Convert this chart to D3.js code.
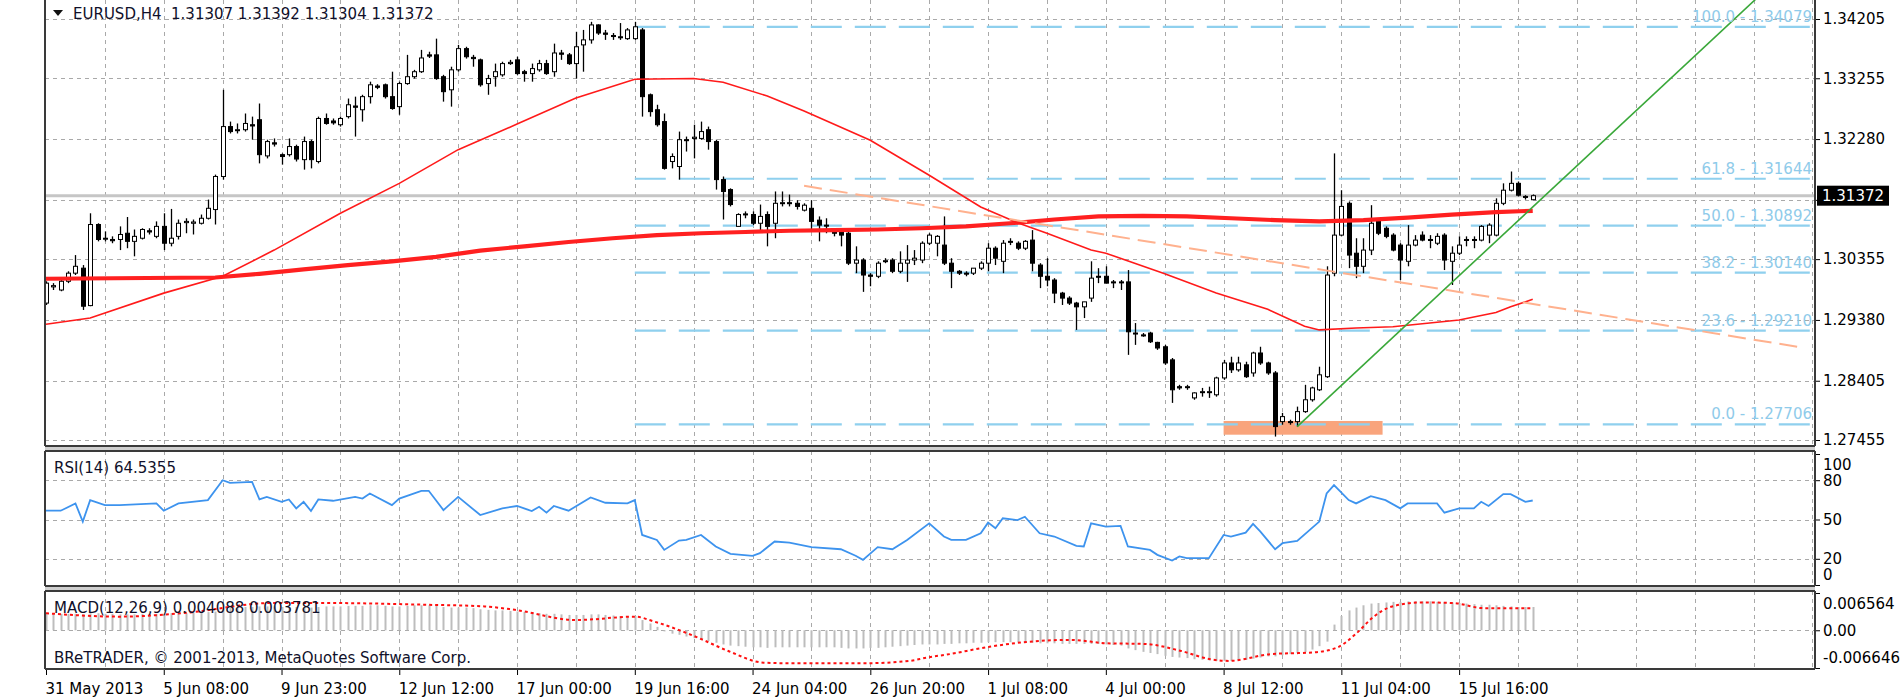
<!DOCTYPE html>
<html><head><meta charset="utf-8">
<script src="https://cdn.jsdelivr.net/npm/d3@7"></script>
<style>
body{margin:0;background:#fff;}
svg{display:block;font-family:"DejaVu Sans",sans-serif;}
</style>
</head><body>
<svg id="c" width="1900" height="700"></svg>
<script>
// ---------------- DATA ----------------
const symbolLabel = "EURUSD,H4";
const lastBar = [1.31307, 1.31392, 1.31304, 1.31372];
const currentPrice = 1.31372;

const opens = [
1.2965,1.2991,1.2986,1.3000,1.3013,1.3021,1.2961,1.3091,1.3068,1.3067,
1.3067,1.3077,1.3064,1.3069,1.3081,1.3072,1.3088,1.3061,1.3072,1.3094,
1.3093,1.3093,1.3101,1.3115,1.3168,1.3248,1.3242,1.3243,1.3251,1.3259,
1.3201,1.3222,1.3203,1.3203,1.3216,1.3195,1.3224,1.3192,1.3261,1.3257,
1.3251,1.3264,1.3281,1.3275,1.3296,1.3313,1.3315,1.3296,1.3280,1.3317,
1.3328,1.3336,1.3363,1.3363,1.3328,1.3307,1.3339,1.3373,1.3359,1.3355,
1.3317,1.3328,1.3331,1.3349,1.3355,1.3336,1.3333,1.3339,1.3349,1.3336,
1.3366,1.3363,1.3349,1.3379,1.3387,1.3411,1.3398,1.3394,1.3392,1.3389,
1.3389,1.3403,1.3299,1.3275,1.3256,1.3192,1.3184,1.3227,1.3229,1.3229,
1.3243,1.3224,1.3163,1.3147,1.3088,1.3108,1.3107,1.3093,1.3107,1.3093,
1.3125,1.3126,1.3125,1.3114,1.3117,1.3098,1.3090,1.3082,1.3080,1.3077,
1.3029,1.3034,1.3010,1.3008,1.3032,1.3034,1.3016,1.3029,1.3034,1.3034,
1.3061,1.3061,1.3058,1.3029,1.3016,1.3013,1.3013,1.3021,1.3029,1.3053,
1.3032,1.3064,1.3061,1.3053,1.3066,1.3026,1.3008,1.3002,1.2981,1.2973,
1.2965,1.2959,1.2973,1.3008,1.3008,1.2999,1.2999,1.2999,1.2917,1.2914,
1.2917,1.2902,1.2895,1.2874,1.2831,1.2830,1.2813,1.2822,1.2822,1.2818,
1.2845,1.2869,1.2858,1.2866,1.2853,1.2885,1.2869,1.2853,1.2775,1.2775,
1.2775,1.2791,1.2810,1.2826,1.2847,1.3013,1.3074,1.3125,1.3045,1.3024,
1.3050,1.3096,1.3085,1.3074,1.3058,1.3032,1.3058,1.3074,1.3067,1.3061,
1.3074,1.3032,1.3045,1.3066,1.3067,1.3066,1.3074,1.3074,1.3125,1.3146,
1.3157,1.3136,1.31307];
const highs = [
1.3000,1.2997,1.3002,1.3016,1.3042,1.3026,1.3109,1.3093,1.3080,1.3072,
1.3088,1.3103,1.3083,1.3085,1.3085,1.3096,1.3109,1.3116,1.3099,1.3101,
1.3099,1.3107,1.3131,1.3171,1.3307,1.3256,1.3253,1.3269,1.3264,1.3285,
1.3227,1.3229,1.3205,1.3229,1.3219,1.3232,1.3227,1.3264,1.3269,1.3261,
1.3264,1.3293,1.3296,1.3299,1.3320,1.3316,1.3317,1.3336,1.3320,1.3363,
1.3339,1.3371,1.3368,1.3389,1.3331,1.3344,1.3379,1.3376,1.3363,1.3357,
1.3331,1.3349,1.3352,1.3355,1.3360,1.3339,1.3349,1.3355,1.3355,1.3381,
1.3371,1.3366,1.3400,1.3403,1.3416,1.3412,1.3403,1.3398,1.3414,1.3406,
1.3416,1.3406,1.3301,1.3283,1.3269,1.3205,1.3240,1.3232,1.3251,1.3256,
1.3248,1.3227,1.3168,1.3149,1.3109,1.3112,1.3112,1.3123,1.3112,1.3144,
1.3144,1.3139,1.3130,1.3125,1.3130,1.3104,1.3101,1.3085,1.3082,1.3080,
1.3056,1.3037,1.3013,1.3032,1.3037,1.3037,1.3048,1.3058,1.3050,1.3064,
1.3077,1.3074,1.3104,1.3037,1.3018,1.3016,1.3021,1.3032,1.3061,1.3056,
1.3066,1.3069,1.3064,1.3066,1.3082,1.3029,1.3037,1.3005,1.2983,1.2976,
1.2967,1.2967,1.3032,1.3021,1.3024,1.3002,1.3002,1.3018,1.2933,1.2917,
1.2919,1.2903,1.2898,1.2877,1.2834,1.2834,1.2822,1.2829,1.2831,1.2847,
1.2874,1.2879,1.2879,1.2871,1.2887,1.2895,1.2871,1.2856,1.2789,1.2778,
1.2799,1.2834,1.2831,1.2863,1.3024,1.3205,1.3146,1.3128,1.3069,1.3069,
1.3122,1.3099,1.3088,1.3077,1.3061,1.3090,1.3074,1.3080,1.3074,1.3077,
1.3077,1.3056,1.3072,1.3072,1.3072,1.3090,1.3093,1.3133,1.3157,1.3176,
1.3160,1.3138,1.31392];
const lows = [
1.2962,1.2986,1.2984,1.2997,1.3010,1.2954,1.2960,1.3064,1.3064,1.3061,
1.3050,1.3053,1.3040,1.3067,1.3075,1.3069,1.3050,1.3056,1.3067,1.3077,
1.3075,1.3091,1.3099,1.3091,1.3163,1.3237,1.3237,1.3240,1.3227,1.3189,
1.3197,1.3216,1.3187,1.3200,1.3192,1.3179,1.3181,1.3189,1.3251,1.3251,
1.3248,1.3261,1.3232,1.3256,1.3285,1.3308,1.3293,1.3275,1.3267,1.3315,
1.3325,1.3334,1.3358,1.3323,1.3288,1.3280,1.3336,1.3357,1.3344,1.3312,
1.3299,1.3312,1.3328,1.3347,1.3331,1.3320,1.3320,1.3336,1.3331,1.3328,
1.3355,1.3347,1.3325,1.3336,1.3381,1.3395,1.3387,1.3387,1.3387,1.3387,
1.3387,1.3264,1.3264,1.3248,1.3179,1.3181,1.3163,1.3208,1.3197,1.3227,
1.3211,1.3147,1.3099,1.3120,1.3088,1.3101,1.3090,1.3080,1.3056,1.3069,
1.3120,1.3120,1.3115,1.3112,1.3082,1.3064,1.3077,1.3072,1.3056,1.3026,
1.3013,1.2983,1.2992,1.3005,1.3029,1.3013,1.3013,1.2999,1.3026,1.3029,
1.3058,1.3040,1.3026,1.2989,1.3010,1.3008,1.3010,1.3018,1.3016,1.3026,
1.3013,1.3058,1.3050,1.3050,1.3016,1.2989,1.2992,1.2965,1.2962,1.2962,
1.2922,1.2941,1.2967,1.2997,1.2997,1.2989,1.2986,1.2882,1.2898,1.2911,
1.2901,1.2890,1.2866,1.2805,1.2826,1.2826,1.2810,1.2815,1.2813,1.2815,
1.2842,1.2853,1.2855,1.2845,1.2847,1.2866,1.2850,1.2751,1.2770,1.2770,
1.2767,1.2789,1.2807,1.2824,1.2845,1.3008,1.3072,1.3021,1.3005,1.3013,
1.3042,1.3074,1.3069,1.3048,1.3002,1.3024,1.3056,1.3064,1.3053,1.3058,
1.3018,1.2994,1.3042,1.3056,1.3053,1.3064,1.3061,1.3072,1.3122,1.3144,
1.3136,1.3131,1.31304];
const closes = [
1.2997,1.2993,1.3000,1.3013,1.3024,1.2960,1.3091,1.3067,1.3069,1.3065,
1.3075,1.3064,1.3072,1.3083,1.3079,1.3088,1.3061,1.3069,1.3093,1.3096,
1.3095,1.3101,1.3117,1.3168,1.3248,1.3240,1.3243,1.3253,1.3249,1.3203,
1.3224,1.3220,1.3200,1.3216,1.3196,1.3224,1.3195,1.3261,1.3253,1.3254,
1.3261,1.3283,1.3279,1.3296,1.3315,1.3311,1.3296,1.3277,1.3317,1.3328,
1.3336,1.3358,1.3361,1.3325,1.3304,1.3339,1.3373,1.3360,1.3357,1.3315,
1.3325,1.3336,1.3349,1.3351,1.3333,1.3333,1.3341,1.3349,1.3333,1.3366,
1.3364,1.3349,1.3376,1.3387,1.3411,1.3398,1.3396,1.3393,1.3391,1.3403,
1.3408,1.3296,1.3272,1.3251,1.3181,1.3200,1.3227,1.3226,1.3231,1.3240,
1.3224,1.3163,1.3144,1.3123,1.3107,1.3107,1.3093,1.3104,1.3088,1.3125,
1.3126,1.3125,1.3120,1.3122,1.3096,1.3090,1.3089,1.3077,1.3074,1.3029,
1.3034,1.3010,1.3008,1.3029,1.3033,1.3016,1.3029,1.3034,1.3037,1.3061,
1.3074,1.3072,1.3029,1.3016,1.3013,1.3012,1.3021,1.3029,1.3053,1.3037,
1.3061,1.3063,1.3053,1.3064,1.3029,1.3008,1.3002,1.2981,1.2973,1.2965,
1.2959,1.2967,1.3005,1.3007,1.2997,1.2998,1.2998,1.2919,1.2916,1.2913,
1.2903,1.2893,1.2869,1.2826,1.2829,1.2831,1.2821,1.2823,1.2823,1.2845,
1.2869,1.2858,1.2869,1.2847,1.2885,1.2869,1.2853,1.2767,1.2783,1.2774,
1.2791,1.2810,1.2829,1.2850,1.3010,1.3074,1.3120,1.3042,1.3024,1.3050,
1.3093,1.3077,1.3072,1.3050,1.3034,1.3058,1.3066,1.3066,1.3066,1.3072,
1.3034,1.3045,1.3058,1.3067,1.3066,1.3088,1.3090,1.3125,1.3146,1.3157,
1.3138,1.3135,1.31372];

const priceTicks = [1.34205, 1.33255, 1.32280, 1.31305, 1.30355, 1.29380, 1.28405, 1.27455];
const timeLabels = ["31 May 2013","5 Jun 08:00","9 Jun 23:00","12 Jun 12:00","17 Jun 00:00","19 Jun 16:00","24 Jun 04:00","26 Jun 20:00","1 Jul 08:00","4 Jul 00:00","8 Jul 12:00","11 Jul 04:00","15 Jul 16:00"];
const timeLabelBars = [0,16,32,48,64,80,96,112,128,144,160,176,192];

// moving averages (higher-timeframe, read as vertices)
const maFastBars = [0,6,16,24,31,40,48,56,64,72,80,88,92,98,103,112,120,127,132,136,142,144,152,159,166,171,173,178,183,188,192,197,199,202];
const maFastValues = [1.2931,1.2941,1.2981,1.3008,1.3050,1.3109,1.3157,1.3211,1.3252,1.3294,1.3324,1.3325,1.3319,1.3297,1.3273,1.3226,1.3170,1.3119,1.3094,1.3077,1.3050,1.3045,1.3012,1.2981,1.2955,1.2928,1.2922,1.2925,1.2927,1.2933,1.2938,1.2950,1.2959,1.2971];
const maSlowBars = [0,23,29,35,41,47,53,59,65,71,77,83,89,95,101,107,113,119,125,131,137,143,149,155,161,167,173,179,185,191,197,202];
const maSlowValues = [1.3004,1.3006,1.3012,1.3019,1.3026,1.3032,1.3039,1.3049,1.3056,1.3063,1.3069,1.3074,1.3077,1.3079,1.3081,1.3082,1.3083,1.3085,1.3088,1.3093,1.3099,1.3104,1.3105,1.3104,1.3101,1.3098,1.3096,1.3098,1.3102,1.3107,1.3111,1.3113];

// Fibonacci retracement
const fibLevels = [100.0, 61.8, 50.0, 38.2, 23.6, 0.0];
const fibPrices = [1.34079, 1.31644, 1.30892, 1.30140, 1.29210, 1.27706];
const fibStartBar = 80;

// objects
const greenTrendBars = [170, 204];
const greenTrendPrices = [1.2767, 1.3141];
const salmonTrendBars = [103, 239];
const salmonTrendPrices = [1.3153, 1.2893];
const zoneBars = [160, 181.6];
const zonePrices = [1.2776, 1.2754];

// RSI(14)
const rsiLabel = "RSI(14) 64.5355";
const rsiTicks = [100, 80, 50, 20, 0];
const rsiBars = [0,2,4,5,6,8,10,15,16,18,22,24,25,28,29,30,32,33,34,35,36,37,39,42,43,44,47,48,51,52,54,56,59,62,64,66,67,68,69,71,74,76,79,80,81,83,84,86,87,89,91,93,96,97,99,101,104,108,110,111,113,115,117,120,122,123,125,127,128,129,130,132,133,135,137,140,141,142,144,146,147,150,151,153,154,155,158,160,161,163,164,165,167,168,170,173,174,175,177,178,180,182,184,185,189,190,192,194,195,196,198,199,201,202];
const rsiValues = [56.7,56.7,62.3,48.4,64.8,61,61,62.3,56.7,62.3,64.8,80,78,78.7,65.3,67.3,63.5,65.3,58.5,63.5,56.5,65.3,64.3,67.3,66,69.9,61,66,71.9,71.9,57.2,67.3,53.4,58.5,60.3,56.5,59.7,55.2,60.3,56.7,66.8,62.8,62.3,64.8,38.2,34.4,26.8,33.9,34.4,38.2,29.4,23.8,22.3,24.3,33.2,32.4,28.9,27.3,22.3,19.2,28.9,27.3,34.4,47.1,37,34.4,34.4,39.5,47.6,43.3,50.9,49.6,52.1,39.5,37,29.9,29.4,47.1,44.6,45.1,29.4,26.8,23,18.7,21.8,20.5,20.5,38.2,37,40,46.6,40.8,27.3,31.9,33.7,48.4,69.9,76.2,64.8,62.3,67.8,64.8,58.5,62.3,62.3,55.2,58.5,58.5,63.5,60.3,69.4,69.4,63.5,64.5];

// MACD(12,26,9)
const macdLabel = "MACD(12,26,9) 0.004088 0.003781";
const macdTicks = [0.006564, 0, -0.006646];
const macdTickLabels = ["0.006564", "0.00", "-0.006646"];
const macdHist = [
.0030,.0030,.0029,.0029,.0029,.0028,.0030,.0030,.0029,.0029,
.0028,.0028,.0028,.0029,.0029,.0029,.0029,.0030,.0030,.0030,
.0031,.0031,.0032,.0033,.0037,.0039,.0040,.0041,.0041,.0042,
.0042,.0042,.0041,.0041,.0041,.0040,.0040,.0041,.0042,.0042,
.0042,.0043,.0043,.0043,.0044,.0044,.0043,.0042,.0042,.0043,
.0044,.0044,.0044,.0043,.0041,.0040,.0040,.0040,.0039,.0037,
.0036,.0035,.0035,.0034,.0033,.0032,.0031,.0030,.0029,.0029,
.0028,.0027,.0027,.0027,.0028,.0028,.0027,.0026,.0025,.0025,
.0025,.0018,.0012,.0006,-.0002,-.0006,-.0008,-.0011,-.0014,-.0017,
-.0019,-.0022,-.0025,-.0027,-.0028,-.0029,-.0030,-.0030,-.0031,-.0030,
-.0030,-.0030,-.0030,-.0030,-.0030,-.0030,-.0030,-.0030,-.0031,-.0032,
-.0032,-.0032,-.0031,-.0031,-.0030,-.0029,-.0028,-.0027,-.0026,-.0025,
-.0025,-.0025,-.0024,-.0024,-.0023,-.0023,-.0022,-.0022,-.0021,-.0021,
-.0021,-.0021,-.0021,-.0022,-.0022,-.0023,-.0023,-.0023,-.0024,-.0024,
-.0024,-.0024,-.0024,-.0024,-.0025,-.0026,-.0027,-.0032,-.0035,-.0038,
-.0040,-.0042,-.0045,-.0047,-.0048,-.0049,-.0051,-.0052,-.0053,-.0054,
-.0054,-.0054,-.0053,-.0052,-.0050,-.0048,-.0046,-.0046,-.0044,-.0042,
-.0040,-.0038,-.0034,-.0028,-.0020,.0010,.0025,.0035,.0040,.0044,
.0047,.0048,.0049,.0050,.0050,.0051,.0051,.0051,.0051,.0050,
.0050,.0049,.0048,.0047,.0046,.0045,.0045,.0044,.0043,.0042,
.0041,.0041,.0041];
const signalBars = [0,10,18.5,30.8,38.2,51.4,59.6,63.7,72,80,82.7,88.4,92.6,97.5,100.8,111.5,117.3,119.7,122.8,127.7,136,139.3,144.2,149.2,154.1,158.2,160.7,166.4,172.2,175.5,178,180.4,182.9,187,191.2,195.3,202];
const signalValues = [.0030,.0024,.0030,.0048,.0048,.0045,.0042,.0036,.0018,.0024,.0015,-.0012,-.0036,-.0057,-.0058,-.0058,-.0054,-.0048,-.0042,-.0030,-.0018,-.0017,-.0023,-.0024,-.0036,-.0051,-.0054,-.0042,-.0039,-.0030,-.0006,.0024,.0042,.0049,.0048,.0039,.0039];

const copyright = "BReTRADER, \u00A9 2001-2013, MetaQuotes Software Corp.";

// ---------------- LAYOUT ----------------
const L = 45, R = 1815;
const main = {top: 0, bottom: 446};
const rsiP = {top: 451, bottom: 586};
const macdP = {top: 591, bottom: 669};
const FS = 15;

const svg = d3.select("#c");
const x = d3.scaleLinear().domain([0, 240]).range([46, 46 + 7.36 * 240]);
const yP = d3.scaleLinear().domain([1.27455, 1.34205]).range([440, 19]);
const yR = d3.scaleLinear().domain([0, 100]).range([585, 454]);
const yM = d3.scaleLinear().domain([-0.006646, 0.006564]).range([668, 593]);

const defs = svg.append("defs");
function clip(id, p) {
  defs.append("clipPath").attr("id", id).append("rect")
    .attr("x", L).attr("y", p.top).attr("width", R - L).attr("height", p.bottom - p.top);
}
clip("cm", main); clip("cr", rsiP); clip("cd", macdP);

const gridBars = d3.range(8, 241, 8).filter(b => x(b) < R - 1);
const gridColor = "#a9a9a9";

function vgrid(p) {
  svg.append("g").selectAll("line").data(gridBars).join("line")
    .attr("x1", d => Math.round(x(d)) + 0.5).attr("x2", d => Math.round(x(d)) + 0.5)
    .attr("y1", p.top).attr("y2", p.bottom)
    .attr("stroke", gridColor).attr("stroke-width", 1).attr("stroke-dasharray", "4,4");
}
function hgrid(vals, sc) {
  svg.append("g").selectAll("line").data(vals).join("line")
    .attr("x1", L).attr("x2", R)
    .attr("y1", d => Math.round(sc(d)) + 0.5).attr("y2", d => Math.round(sc(d)) + 0.5)
    .attr("stroke", gridColor).attr("stroke-width", 1).attr("stroke-dasharray", "4,4");
}

// ---------- MAIN PANEL ----------
vgrid(main);
hgrid(priceTicks, yP);

const gm = svg.append("g").attr("clip-path", "url(#cm)");

// current price line
gm.append("line").attr("x1", L).attr("x2", R)
  .attr("y1", yP(currentPrice)).attr("y2", yP(currentPrice))
  .attr("stroke", "#c6c6c6").attr("stroke-width", 3);

// zone rectangle
gm.append("rect")
  .attr("x", x(zoneBars[0])).attr("width", x(zoneBars[1]) - x(zoneBars[0]))
  .attr("y", yP(zonePrices[0])).attr("height", yP(zonePrices[1]) - yP(zonePrices[0]))
  .attr("fill", "#f9a47c");

// fib lines
const fibData = fibLevels.map((lv, i) => ({lv, p: fibPrices[i]}));
gm.append("g").selectAll("line").data(fibData).join("line")
  .attr("x1", x(fibStartBar)).attr("x2", R)
  .attr("y1", d => yP(d.p)).attr("y2", d => yP(d.p))
  .attr("stroke", "#8fd0ee").attr("stroke-width", 2.2).attr("stroke-dasharray", "31,13");

// candles
const idx = d3.range(closes.length);
const gc = gm.append("g");
gc.selectAll("line").data(idx).join("line")
  .attr("x1", i => Math.round(x(i)) + 0.5).attr("x2", i => Math.round(x(i)) + 0.5)
  .attr("y1", i => yP(highs[i])).attr("y2", i => yP(lows[i]))
  .attr("stroke", "#000").attr("stroke-width", 1.3);
gc.selectAll("rect").data(idx).join("rect")
  .attr("x", i => Math.round(x(i)) - 1.5)
  .attr("width", 4)
  .attr("y", i => yP(Math.max(opens[i], closes[i])))
  .attr("height", i => Math.max(1, Math.abs(yP(opens[i]) - yP(closes[i]))))
  .attr("fill", i => closes[i] >= opens[i] ? "#fff" : "#000")
  .attr("stroke", "#000").attr("stroke-width", 1);

// moving averages
gm.append("path").datum(maSlowBars.map((b, i) => [b, maSlowValues[i]]))
  .attr("d", d3.line().x(d => x(d[0])).y(d => yP(d[1])))
  .attr("fill", "none").attr("stroke", "#ff2020").attr("stroke-width", 4.2);
gm.append("path").datum(maFastBars.map((b, i) => [b, maFastValues[i]]))
  .attr("d", d3.line().x(d => x(d[0])).y(d => yP(d[1])))
  .attr("fill", "none").attr("stroke", "#ff1a1a").attr("stroke-width", 1.6);

// salmon dashed trendline
gm.append("line")
  .attr("x1", x(salmonTrendBars[0])).attr("y1", yP(salmonTrendPrices[0]))
  .attr("x2", x(salmonTrendBars[1])).attr("y2", yP(salmonTrendPrices[1]))
  .attr("stroke", "#ffb18e").attr("stroke-width", 2).attr("stroke-dasharray", "18,8");

// green ray
const gSlope = (greenTrendPrices[1] - greenTrendPrices[0]) / (greenTrendBars[1] - greenTrendBars[0]);
const gEnd = 240;
gm.append("line")
  .attr("x1", x(greenTrendBars[0])).attr("y1", yP(greenTrendPrices[0]))
  .attr("x2", x(gEnd)).attr("y2", yP(greenTrendPrices[0] + gSlope * (gEnd - greenTrendBars[0])))
  .attr("stroke", "#3aa83a").attr("stroke-width", 1.6);

// fib labels
svg.append("g").selectAll("text").data(fibData).join("text")
  .attr("x", R - 3).attr("y", d => yP(d.p) - 5)
  .attr("text-anchor", "end").attr("font-size", FS).attr("fill", "#8fcbea")
  .text(d => `${d.lv.toFixed(1)} - ${d.p.toFixed(5)}`);

// header
svg.append("path").attr("d", "M53,10 L63,10 L58,16 Z").attr("fill", "#111");
svg.append("text").attr("x", 73).attr("y", 19).attr("font-size", FS).attr("fill", "#10102a")
  .attr("xml:space", "preserve")
  .text(`${symbolLabel}  ${lastBar.map(v => v.toFixed(5)).join(" ")}`);

// price axis
const yCur = yP(currentPrice);
const pAxis = d3.axisRight(yP).tickValues(priceTicks).tickSize(5).tickPadding(3).tickFormat(d3.format(".5f"));
const gpa = svg.append("g").attr("transform", `translate(${R},0)`).call(pAxis);
gpa.select(".domain").remove();
gpa.selectAll("text").attr("font-size", FS).attr("font-family", "DejaVu Sans").attr("fill", "#000")
  .attr("display", d => Math.abs(yP(d) - yCur) < 14 ? "none" : null);
gpa.selectAll("line").attr("stroke", "#000");
// current price box
svg.append("rect").attr("x", R + 2).attr("y", yCur - 10).attr("width", 72).attr("height", 20).attr("fill", "#000");
svg.append("text").attr("x", R + 7).attr("y", yCur + 5.5).attr("font-size", FS).attr("fill", "#fff")
  .text(currentPrice.toFixed(5));

// ---------- RSI PANEL ----------
vgrid(rsiP);
hgrid([80, 50, 20], yR);
svg.append("g").attr("clip-path", "url(#cr)").append("path")
  .datum(rsiBars.map((b, i) => [b, rsiValues[i]]))
  .attr("d", d3.line().x(d => x(d[0])).y(d => yR(d[1])))
  .attr("fill", "none").attr("stroke", "#3d93ee").attr("stroke-width", 1.8);
svg.append("text").attr("x", 54).attr("y", 473).attr("font-size", FS).attr("fill", "#10102a").text(rsiLabel);
const rAxis = d3.axisRight(yR).tickValues(rsiTicks).tickSize(5).tickPadding(3);
const gra = svg.append("g").attr("transform", `translate(${R},0)`).call(rAxis);
gra.select(".domain").remove();
gra.selectAll("line").attr("stroke", "#000");
gra.selectAll("text").attr("font-size", FS).attr("font-family", "DejaVu Sans").attr("fill", "#000")
  .attr("dy", d => d === 100 ? "1.05em" : d === 0 ? "-0.35em" : "0.32em");

// ---------- MACD PANEL ----------
vgrid(macdP);
hgrid([0], yM);
const gd = svg.append("g").attr("clip-path", "url(#cd)");
gd.selectAll("line").data(idx).join("line")
  .attr("x1", i => Math.round(x(i)) + 0.5).attr("x2", i => Math.round(x(i)) + 0.5)
  .attr("y1", yM(0)).attr("y2", i => yM(macdHist[i]))
  .attr("stroke", "#bdbdbd").attr("stroke-width", 2);
gd.append("path").datum(signalBars.map((b, i) => [b, signalValues[i]]))
  .attr("d", d3.line().x(d => x(d[0])).y(d => yM(d[1])).curve(d3.curveMonotoneX))
  .attr("fill", "none").attr("stroke", "#ff1010").attr("stroke-width", 2).attr("stroke-dasharray", "3,3");
svg.append("text").attr("x", 54).attr("y", 613).attr("font-size", FS).attr("fill", "#10102a").text(macdLabel);
svg.append("text").attr("x", 54).attr("y", 663).attr("font-size", FS).attr("fill", "#10102a").text(copyright);
const mAxis = d3.axisRight(yM).tickValues(macdTicks).tickSize(5).tickPadding(3)
  .tickFormat((d, i) => macdTickLabels[i]);
const gma = svg.append("g").attr("transform", `translate(${R},0)`).call(mAxis);
gma.select(".domain").remove();
gma.selectAll("line").attr("stroke", "#000");
gma.selectAll("text").attr("font-size", FS).attr("font-family", "DejaVu Sans").attr("fill", "#000")
  .attr("dy", (d, i) => i === 0 ? "1.05em" : i === 2 ? "-0.35em" : "0.32em");

// ---------- TIME AXIS ----------
const tAxis = d3.axisBottom(x).tickValues(timeLabelBars).tickSize(6).tickPadding(8)
  .tickFormat((d, i) => timeLabels[i]);
const gta = svg.append("g").attr("transform", `translate(0,${macdP.bottom})`).call(tAxis);
gta.select(".domain").remove();
gta.selectAll("line").attr("stroke", "#000");
gta.selectAll("text").attr("font-size", FS).attr("font-family", "DejaVu Sans").attr("fill", "#000")
  .attr("text-anchor", "start").attr("dx", "-1");

// ---------- FRAMES ----------
const frame = "#3a3a3a";
[main, rsiP, macdP].forEach(p => {
  svg.append("line").attr("x1", L).attr("x2", L).attr("y1", p.top).attr("y2", p.bottom).attr("stroke", frame).attr("stroke-width", 2);
  svg.append("line").attr("x1", R).attr("x2", R).attr("y1", p.top).attr("y2", p.bottom).attr("stroke", frame).attr("stroke-width", 2);
  svg.append("line").attr("x1", L).attr("x2", R).attr("y1", p.bottom).attr("y2", p.bottom).attr("stroke", frame).attr("stroke-width", 2);
  if (p.top > 0) svg.append("line").attr("x1", L).attr("x2", R).attr("y1", p.top).attr("y2", p.top).attr("stroke", frame).attr("stroke-width", 2);
});
svg.append("rect").attr("x", L).attr("y", main.bottom + 1).attr("width", R - L).attr("height", rsiP.top - main.bottom - 2).attr("fill", "#cfcfcf");
svg.append("rect").attr("x", L).attr("y", rsiP.bottom + 1).attr("width", R - L).attr("height", macdP.top - rsiP.bottom - 2).attr("fill", "#cfcfcf");
</script>
</body></html>
